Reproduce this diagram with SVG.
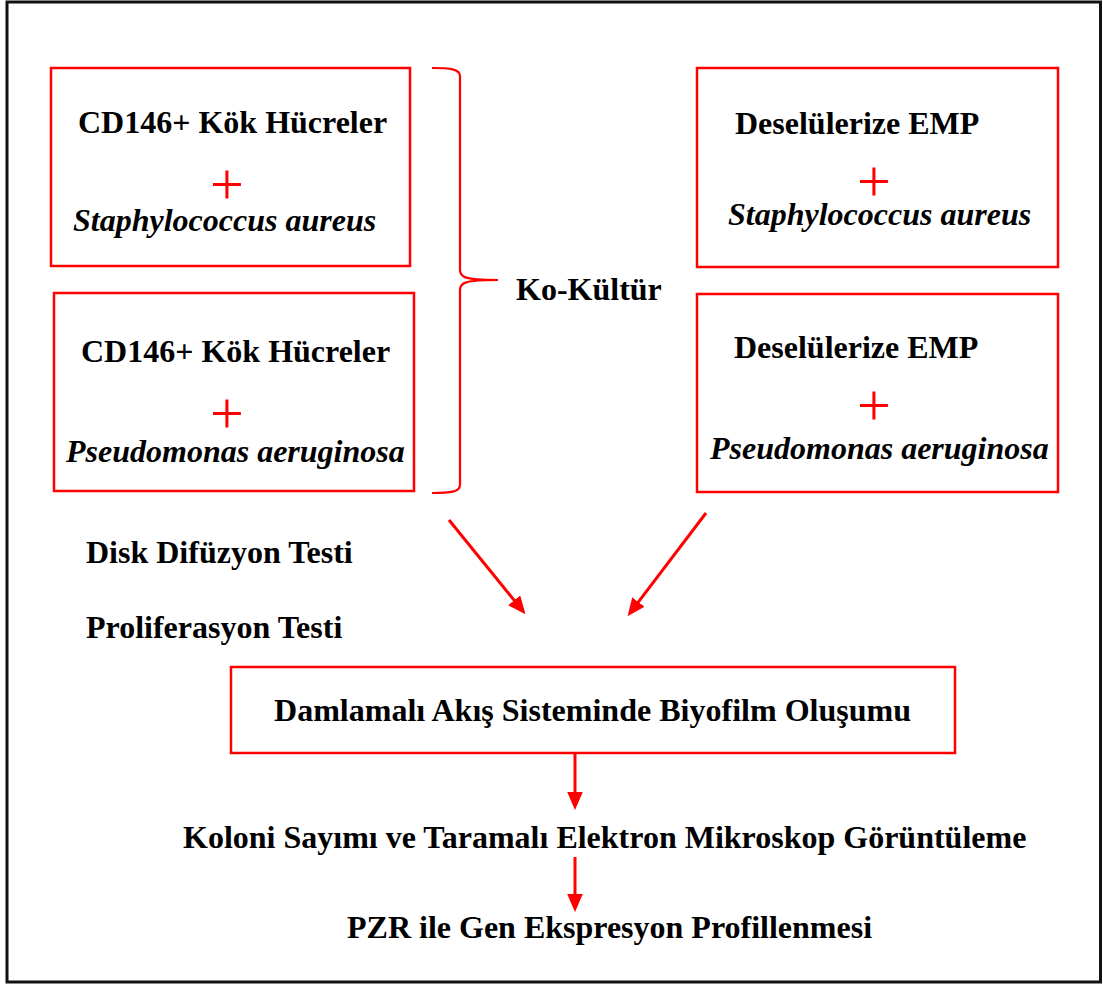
<svg xmlns="http://www.w3.org/2000/svg" width="1103" height="985" viewBox="0 0 1103 985">
<style>
.box{fill:none;stroke:#ff0000;stroke-width:2.5}
.t{font-family:"Liberation Serif","Times New Roman",serif;font-weight:bold;font-size:32px;fill:#000}
.i{font-style:italic}
.plus{font-family:"Liberation Serif","Times New Roman",serif;font-size:60px;fill:#ff0000;text-anchor:middle}
.con{fill:none;stroke:#ff0000;stroke-width:3}
</style>
<defs>
<marker id="ah" markerUnits="strokeWidth" markerWidth="6" markerHeight="5.2" refX="0.3" refY="2.6" orient="auto">
<path d="M0,0 L6,2.6 L0,5.2 z" fill="#ff0000"/>
</marker>
</defs>
<rect x="0" y="0" width="1103" height="985" fill="#fff"/>
<rect id="frame" x="7" y="2" width="1093.5" height="980" fill="none" stroke="#111" stroke-width="3"/>

<g id="node-cd146-sa">
<rect class="box" x="51" y="68" width="359" height="198"/>
<text class="t" x="78" y="133">CD146+ Kök Hücreler</text>
<text class="plus" x="227" y="204">+</text>
<text class="t i" x="73" y="231">Staphylococcus aureus</text>
</g>
<g id="node-cd146-pa">
<rect class="box" x="54" y="293" width="360" height="198"/>
<text class="t" x="81" y="362">CD146+ Kök Hücreler</text>
<text class="plus" x="227" y="433">+</text>
<text class="t i" x="66" y="462">Pseudomonas aeruginosa</text>
</g>
<g id="node-emp-sa">
<rect class="box" x="697" y="68" width="361" height="199"/>
<text class="t" x="735" y="134">Deselülerize EMP</text>
<text class="plus" x="874" y="201">+</text>
<text class="t i" x="728" y="225">Staphylococcus aureus</text>
</g>
<g id="node-emp-pa">
<rect class="box" x="697" y="294" width="361" height="198"/>
<text class="t" x="734" y="358">Deselülerize EMP</text>
<text class="plus" x="874" y="425">+</text>
<text class="t i" x="710" y="459">Pseudomonas aeruginosa</text>
</g>
<g id="node-kokultur">
<path class="con" style="stroke-width:2.2" d="M432,68 C450,68 460,69 460,76 L460,270 C460,277 464,280 498,280 M498,280 C464,280 460,283 460,290 L460,485 C460,492 450,493 432,493"/>
<text class="t" x="516" y="300">Ko-Kültür</text>
</g>
<g id="node-tests">
<text class="t" x="86" y="563">Disk Difüzyon Testi</text>
<text class="t" x="86" y="638">Proliferasyon Testi</text>
</g>
<g id="node-biofilm">
<rect class="box" x="231" y="667" width="724" height="86"/>
<text class="t" x="274" y="721" textLength="637" lengthAdjust="spacingAndGlyphs">Damlamalı Akış Sisteminde Biyofilm Oluşumu</text>
</g>
<g id="node-koloni">
<text class="t" x="183" y="848">Koloni Sayımı ve Taramalı Elektron Mikroskop Görüntüleme</text>
</g>
<g id="node-pzr">
<text class="t" x="347" y="938">PZR ile Gen Ekspresyon Profillenmesi</text>
</g>
<g id="connectors">
<line class="con" x1="449" y1="520" x2="514.7" y2="601" marker-end="url(#ah)"/>
<line class="con" x1="706" y1="513" x2="637.9" y2="602.7" marker-end="url(#ah)"/>
<line class="con" x1="575" y1="754" x2="575" y2="793" marker-end="url(#ah)"/>
<line class="con" x1="575" y1="857" x2="575" y2="895" marker-end="url(#ah)"/>
</g>
</svg>
